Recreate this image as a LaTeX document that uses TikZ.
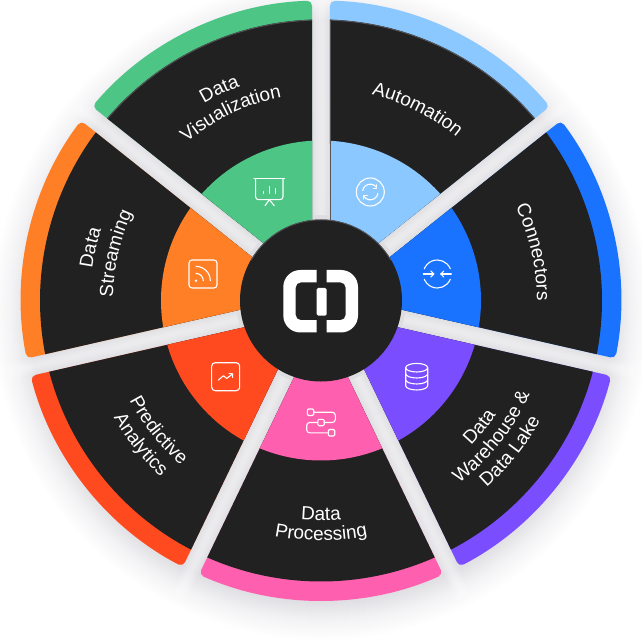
\documentclass[tikz,border=0pt]{standalone}
\usepackage{fontspec}
\setmainfont{Liberation Sans}
\usetikzlibrary{decorations.text,arrows.meta}
\definecolor{dk}{HTML}{212121}
\definecolor{cAuto}{HTML}{8AC8FF}
\definecolor{cConn}{HTML}{1A73FF}
\definecolor{cWare}{HTML}{7A4DFF}
\definecolor{cProc}{HTML}{FF5FAF}
\definecolor{cPred}{HTML}{FF4A1F}
\definecolor{cStrm}{HTML}{FF7F27}
\definecolor{cViz}{HTML}{4CC585}
\definecolor{gA}{HTML}{DDDDE0}
\definecolor{gB}{HTML}{E0E0E4}
\definecolor{gC}{HTML}{DFDFE3}
\definecolor{gD}{HTML}{F3F3F5}
\definecolor{edgeg}{HTML}{55555A}
\pgfdeclareradialshading{halo}{\pgfpoint{0bp}{0bp}}{%
 color(0bp)=(gA); color(18bp)=(gB); color(22bp)=(gC); color(23.5bp)=(gD); color(25bp)=(white); color(50bp)=(white)}
\newcommand{\wedgefill}[3]{% centre angle, radius, options
 \pgfmathsetmacro{\da}{25.714-asin(9/#2)}
 \pgfmathsetmacro{\aone}{#1-\da}
 \pgfmathsetmacro{\atwo}{#1+\da}
 \fill[#3] (#1:20.75pt) -- (\aone:#2pt) arc[start angle=\aone,end angle=\atwo,radius=#2pt] -- cycle;}
\newcommand{\sector}[2]{% centre angle, colour
 \wedgefill{#1}{300}{#2,rounded corners=5pt}
 \wedgefill{#1}{281}{dk}
 \wedgefill{#1}{160}{#2}}
\newcommand{\edgearc}[1]{% faint light rim along the outer arc of a dark sector
 \pgfmathsetmacro{\da}{25.714-asin(9/280.5)}
 \pgfmathsetmacro{\aone}{#1-\da}
 \pgfmathsetmacro{\atwo}{#1+\da}
 \draw[edgeg,line width=.9pt] (\aone:280.5pt) arc[start angle=\aone,end angle=\atwo,radius=280.5pt];}
\newcommand{\gapstrip}[1]{% lighter core of a gap
 \begin{scope}[rotate=#1]
 \foreach \w in {7.5,5,2.5}{\fill[white,opacity=.16] (85,-\w) rectangle (335,\w);}
 \end{scope}}
\newcommand{\cwtext}[3]{% centre angle, baseline radius, text: clockwise
 \pgfmathsetmacro{\aone}{#1+50}\pgfmathsetmacro{\atwo}{#1-50}
 \path[decorate,decoration={text along path,text align=center,text={|\lab|#3}}]
  (\aone:#2pt) arc[start angle=\aone,end angle=\atwo,radius=#2pt];}
\newcommand{\ccwtext}[3]{% counter-clockwise
 \pgfmathsetmacro{\aone}{#1-50}\pgfmathsetmacro{\atwo}{#1+50}
 \path[decorate,decoration={text along path,text align=center,text={|\lab|#3}}]
  (\aone:#2pt) arc[start angle=\aone,end angle=\atwo,radius=#2pt];}
\newcommand{\lab}{\color{white}\fontsize{19}{22}\selectfont}
\tikzset{icon/.style={draw=white,line width=1.1pt,line cap=round,line join=round}}
\begin{document}
\begin{tikzpicture}[x=1pt,y=1pt]
\useasboundingbox (-321,-341.5) rectangle (321,300.5);
\fill[white] (-321,-341.5) rectangle (321,300.5);
\begin{scope}
\clip (-321,-341.5) rectangle (321,300.5);
\shade[shading=halo] (0,-10) circle[radius=330pt];
\foreach \g in {90,38.571,-12.857,-64.286,-115.714,-167.143,141.429}{\gapstrip{\g}}
\end{scope}
\sector{64.286}{cAuto}
\sector{12.857}{cConn}
\sector{-38.571}{cWare}
\sector{-90}{cProc}
\sector{-141.429}{cPred}
\sector{167.143}{cStrm}
\sector{115.714}{cViz}
\edgearc{64.286}
\edgearc{115.714}
\draw[edgeg,line width=.9pt] (9.4,18.9) -- (9.4,279.5);
\fill[dk] (0,0) circle[radius=81pt];
\draw[edgeg,line width=.8pt] (150:80.6pt) arc[start angle=150,end angle=30,radius=80.6pt];
% logo
\fill[white] (-4.3,30.5) -- (-20.7,30.5) arc[start angle=90,end angle=180,radius=17pt]
 -- (-37.7,-15) arc[start angle=180,end angle=270,radius=17pt] -- (-4.3,-32)
 -- (-4.3,-19.7) -- (-20,-19.7) arc[start angle=270,end angle=180,radius=5.4pt]
 -- (-25.4,12.8) arc[start angle=180,end angle=90,radius=5.4pt] -- (-4.3,18.2) -- cycle;
\fill[white] (5.7,30.5) -- (20,30.5) arc[start angle=90,end angle=0,radius=17pt]
 -- (37,-15) arc[start angle=0,end angle=-90,radius=17pt] -- (5.7,-32)
 -- (5.7,-19.7) -- (19.3,-19.7) arc[start angle=-90,end angle=0,radius=5.4pt]
 -- (24.7,12.8) arc[start angle=0,end angle=90,radius=5.4pt] -- (5.7,18.2) -- cycle;
\fill[white,rounded corners=1.5pt] (-4.3,-15.2) rectangle (5.7,12.5);
% labels
\ccwtext{-90}{220}{Data}
\ccwtext{-90}{240}{Processing}
\ccwtext{-38.571}{209}{Data}
\ccwtext{-38.571}{229}{Warehouse {\&}}
\ccwtext{-38.571}{250}{Data Lake}
\ccwtext{-141.429}{216}{Predictive}
\ccwtext{-141.429}{238}{Analytics}
\cwtext{63.2}{212}{Automation}
\cwtext{12.857}{216}{Connectors}
\cwtext{115.714}{229}{Data}
\cwtext{115.714}{207}{Visualization}
\cwtext{167.143}{231}{Data}
\cwtext{167.143}{208}{Streaming}
% automation icon
\begin{scope}[shift={(49.3,108.5)}]
 \draw[icon] (0,0) circle[radius=14pt];
 \draw[icon] (-7.6,1.5) arc[start angle=170,end angle=35,radius=7.7pt];
 \draw[icon] (7.6,-1.5) arc[start angle=-10,end angle=-145,radius=7.7pt];
 \draw[icon] (6.6,7.2) -- (6.6,3.6) -- (3,3.6);
 \draw[icon] (-6.6,-7.2) -- (-6.6,-3.6) -- (-3,-3.6);
\end{scope}
% connectors icon
\begin{scope}[shift={(116.3,26.5)}]
 \draw[icon] (22:14pt) arc[start angle=22,end angle=158,radius=14pt];
 \draw[icon] (-22:14pt) arc[start angle=-22,end angle=-158,radius=14pt];
 \draw[icon] (-14,0) -- (-3.5,0);
 \draw[icon] (14,0) -- (3.5,0);
 \draw[icon] (-6.5,3) -- (-3.5,0) -- (-6.5,-3);
 \draw[icon] (6.5,3) -- (3.5,0) -- (6.5,-3);
\end{scope}
% warehouse icon
\begin{scope}[shift={(95.7,-76.2)}]
 \draw[icon] (0,9) ellipse[x radius=11pt,y radius=4.3pt];
 \draw[icon] (-11,9) -- (-11,-9) arc[start angle=180,end angle=360,x radius=11pt,y radius=4.3pt] -- (11,9);
 \draw[icon] (-11,3) arc[start angle=180,end angle=360,x radius=11pt,y radius=4.3pt];
 \draw[icon] (-11,-3) arc[start angle=180,end angle=360,x radius=11pt,y radius=4.3pt];
\end{scope}
% processing icon
\begin{scope}[shift={(0,-122)}]
 \draw[icon,rounded corners=1.2pt] (-13.7,7) rectangle (-7.3,13.5);
 \draw[icon,rounded corners=1.2pt] (-3.2,-3.2) rectangle (3.2,3.2);
 \draw[icon,rounded corners=1.2pt] (7.3,-13.5) rectangle (13.7,-7);
 \draw[icon,rounded corners=3pt] (-7.3,10.3) -- (14.3,10.3) -- (14.3,0) -- (3.2,0);
 \draw[icon,rounded corners=3pt] (-3.2,0) -- (-14.3,0) -- (-14.3,-10.3) -- (7.3,-10.3);
\end{scope}
% predictive icon
\begin{scope}[shift={(-95.3,-76.2)}]
 \draw[icon,rounded corners=3.5pt] (-14,-14) rectangle (14,14);
 \draw[icon] (-7.3,-3.4) -- (-2.3,1) -- (1,-1.7) -- (7,2.7);
 \draw[icon] (3.4,3.3) -- (7,2.7) -- (7,-0.7);
\end{scope}
% streaming icon
\begin{scope}[shift={(-118,26.5)}]
 \draw[icon,rounded corners=3pt] (-14,-14) rectangle (14,14);
 \fill[white] (-7,-6.7) circle[radius=1.4pt];
 \draw[icon] (-7,0.6) arc[start angle=90,end angle=0,radius=7.3pt];
 \draw[icon] (-7,7.6) arc[start angle=90,end angle=0,radius=14.3pt];
\end{scope}
% visualization icon
\begin{scope}[shift={(-51.7,108.8)}]
 \draw[icon] (-15.3,13.3) -- (15.3,13.3);
 \draw[icon,rounded corners=3pt] (-13.7,13.3) -- (-13.7,-8) -- (13.7,-8) -- (13.7,13.3);
 \draw[icon] (-6,0) -- (-6,-1.7);
 \draw[icon] (0,5) -- (0,-1.7);
 \draw[icon] (6.3,3) -- (6.3,-1.7);
 \draw[icon] (0,-8) -- (-4.3,-14);
 \draw[icon] (0,-8) -- (5,-14);
\end{scope}
\end{tikzpicture}
\end{document}
